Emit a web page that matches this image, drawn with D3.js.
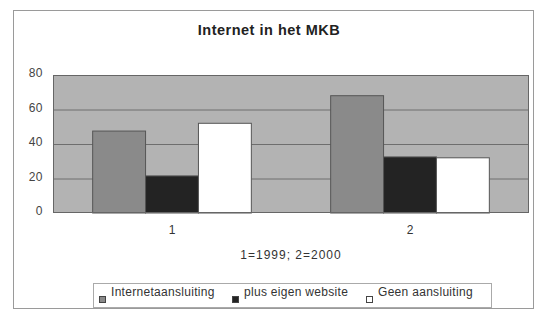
<!DOCTYPE html>
<html>
<head>
<meta charset="utf-8">
<script src="https://cdn.jsdelivr.net/npm/d3@7"></script>
<style>
  body { margin: 0; background: #fff; }
  svg { font-family: Arial, "Liberation Sans", sans-serif; }
</style>
</head>
<body>
<div id="chart"></div>
<script>
// data
const categories = ["1", "2"];
const seriesNames = ["Internetaansluiting", "plus eigen website", "Geen aansluiting"];
const internetaansluiting = [47.5, 68];
const eigenWebsite = [21.5, 32.5];
const geenAansluiting = [52, 32];
const yTicks = [0, 20, 40, 60, 80];

const values = [internetaansluiting, eigenWebsite, geenAansluiting];
const colors = ["#8a8a8a", "#232323", "#ffffff"];

const width = 537, height = 311;
const plot = { left: 53, top: 75, right: 529, bottom: 213 };

const svg = d3.select("#chart").append("svg")
  .attr("width", width)
  .attr("height", height);

// outer chart border
svg.append("rect")
  .attr("x", 13.5).attr("y", 10.5)
  .attr("width", 520).attr("height", 298)
  .attr("fill", "#fff")
  .attr("stroke", "#9a9a9a");

// title
svg.append("text")
  .attr("x", 269).attr("y", 35)
  .attr("text-anchor", "middle")
  .attr("font-size", 14.5)
  .attr("font-weight", "bold")
  .attr("letter-spacing", 0.5)
  .attr("fill", "#222")
  .text("Internet in het MKB");

//scales
const x0 = d3.scaleBand()
  .domain(categories)
  .range([plot.left, plot.right]);

const x1 = d3.scaleBand()
  .domain(d3.range(seriesNames.length))
  .range([0, x0.bandwidth()])
  .paddingOuter(0.75)
  .paddingInner(0);

const y = d3.scaleLinear()
  .domain([0, 80])
  .range([plot.bottom, plot.top]);

// plot background
svg.append("rect")
  .attr("x", plot.left).attr("y", plot.top)
  .attr("width", plot.right - plot.left)
  .attr("height", plot.bottom - plot.top)
  .attr("fill", "#b3b3b3");

// gridlines
svg.append("g")
  .selectAll("line")
  .data(yTicks.filter(d => d > 0))
  .join("line")
    .attr("x1", plot.left).attr("x2", plot.right)
    .attr("y1", d => y(d) + 0.5).attr("y2", d => y(d) + 0.5)
    .attr("stroke", "#6e6e6e");

// bars
const groups = svg.append("g")
  .selectAll("g")
  .data(categories)
  .join("g")
    .attr("transform", d => `translate(${x0(d)},0)`);

groups.selectAll("rect")
  .data((d, ci) => values.map((s, si) => ({ si: si, v: s[ci] })))
  .join("rect")
    .attr("x", d => x1(d.si))
    .attr("y", d => y(d.v))
    .attr("width", x1.bandwidth())
    .attr("height", d => y(0) - y(d.v))
    .attr("fill", d => colors[d.si])
    .attr("stroke", "#555")
    .attr("stroke-width", 1);

// plot border
svg.append("rect")
  .attr("x", plot.left + 0.5).attr("y", plot.top + 0.5)
  .attr("width", plot.right - plot.left - 1)
  .attr("height", plot.bottom - plot.top - 1)
  .attr("fill", "none")
  .attr("stroke", "#666");

// y axis labels
const yAxis = svg.append("g")
  .attr("transform", `translate(${plot.left},-2)`)
  .call(d3.axisLeft(y).tickValues(yTicks).tickSize(0).tickPadding(10));
yAxis.select(".domain").remove();
yAxis.selectAll("text")
  .attr("font-size", 12)
  .attr("letter-spacing", 0.5)
  .attr("fill", "#444")
  .attr("font-family", "Arial, 'Liberation Sans', sans-serif");

// x axis labels
const xAxis = svg.append("g")
  .attr("transform", `translate(0,${plot.bottom})`)
  .call(d3.axisBottom(x0).tickSize(0).tickPadding(12));
xAxis.select(".domain").remove();
xAxis.selectAll("text")
  .attr("font-size", 12)
  .attr("fill", "#333")
  .attr("font-family", "Arial, 'Liberation Sans', sans-serif");

// x axis title
svg.append("text")
  .attr("x", 291).attr("y", 259)
  .attr("text-anchor", "middle")
  .attr("font-size", 12)
  .attr("letter-spacing", 1)
  .attr("fill", "#333")
  .text("1=1999; 2=2000");

// legend
const legend = svg.append("g");
legend.append("rect")
  .attr("x", 93.5).attr("y", 283.5)
  .attr("width", 398).attr("height", 24)
  .attr("fill", "#fff")
  .attr("stroke", "#aaa");

const legendX = [99, 232, 366];
const items = legend.selectAll("g.item")
  .data(seriesNames)
  .join("g")
    .attr("class", "item")
    .attr("transform", (d, i) => `translate(${legendX[i]},0)`);

items.append("rect")
  .attr("x", 0.5).attr("y", 296.5)
  .attr("width", 6).attr("height", 6)
  .attr("fill", (d, i) => colors[i])
  .attr("stroke", "#444");

items.append("text")
  .attr("x", 12).attr("y", 296)
  .attr("font-size", 12)
  .attr("letter-spacing", 0.3)
  .attr("fill", "#333")
  .text(d => d);
</script>
</body>
</html>
